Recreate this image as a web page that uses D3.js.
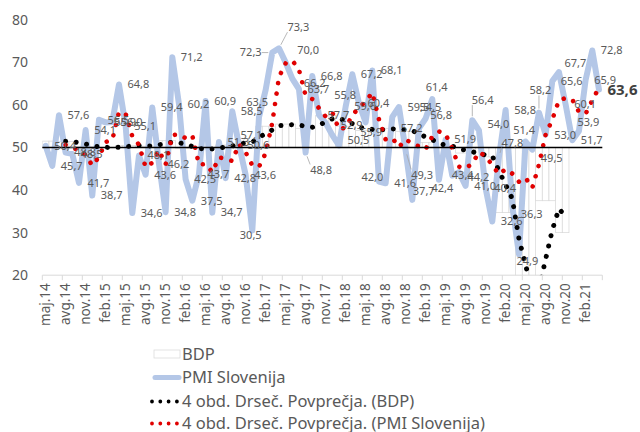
<!DOCTYPE html>
<html><head><meta charset="utf-8">
<script src="https://cdn.jsdelivr.net/npm/d3@7"></script>
<style>body{margin:0;background:#fff}svg{display:block}</style>
</head><body>
<svg id="c" width="640" height="432"></svg>
<script>
const monthNames = ["jan","feb","mar","apr","maj","jun","jul","avg","sep","okt","nov","dec"];
const startMonth = 4, startYear = 14, nMonths = 84;
const categories = d3.range(nMonths).map(i => monthNames[(startMonth + i) % 12] + "." + (startYear + Math.floor((startMonth + i) / 12)));

const pmi = [50.4,45.7,57.6,48.8,48.5,41.7,54.1,38.7,56.5,55.9,56.0,64.8,
             55.1,34.6,48.1,43.6,59.4,46.2,34.8,71.2,60.2,42.5,37.5,43.7,
             60.9,34.7,51.3,42.8,58.5,50.6,43.6,30.5,57.1,63.5,72.3,73.3,
             70.0,66.2,63.7,48.8,66.8,57.7,55.8,52.9,50.5,59.6,67.2,60.4,
             55.9,68.1,42.0,41.6,57.2,59.5,49.3,37.7,54.5,56.8,61.4,42.4,
             51.9,43.4,44.2,41.0,56.4,54.0,40.4,32.6,47.8,58.8,36.3,24.9,
             51.4,49.5,58.2,53.0,65.6,67.7,60.1,51.7,53.9,65.9,72.8,63.6];

const bdp = [51.5,51.5, 51.4,51.4,51.4, 50.2,50.2,50.2, 49.9,49.9,49.9,
             50.5,50.5,50.5, 50.3,50.3,50.3, 51.6,51.6,51.6, 49.8,49.8,49.8,
             49.6,49.6,49.6, 50.6,50.6,50.6, 51.5,51.5,51.5, 55.0,55.0,55.0,
             55.5,55.5,55.5, 54.5,54.5,54.5, 57.5,57.5,57.5, 55.0,55.0,55.0,
             54.0,54.0,54.0, 54.5,54.5,54.5, 53.8,53.8,53.8, 51.2,51.2,51.2,
             50.0,50.0,50.0, 48.7,48.7,48.7, 47.8,47.8,47.8, 34.7,34.7,34.7,
             10.0,10.0,10.0, 37.5,37.5,37.5, 30.0,30.0];

const yTicks = [20,30,40,50,60,70,80];
const axisCross = 50;
const maPeriod = 4;
const legendLabels = ["BDP","PMI Slovenija","4 obd. Drseč. Povprečja. (BDP)","4 obd. Drseč. Povprečja. (PMI Slovenija)"];

// manual data-label nudges (layout only): index -> [dx, dy, leaderLine]
const labelNudge = {
  31: [-21, 5, false], 32: [-27, 18, false], 33: [-28, 12, false],
  34: [-41, 0, true], 35: [0, -21, true], 36: [3, -12, false], 37: [3, 5, false],
  39: [-4, 18, true], 42: [0, -28, false], 43: [0, -10, false], 44: [0, -5, false],
  48: [-14, 10, false], 50: [-26, -4, false], 52: [0, 11, false], 54: [-3, 25, true],
  55: [-8, -9, false], 56: [-8, -21, false], 57: [-4, -3, false], 58: [-15, -12, false],
  59: [-16, 8, false], 61: [-9, 0, false], 62: [0, 5, false], 64: [-9, -20, true],
  65: [0, -6, false], 68: [-6, -14, true], 70: [0, 8, false], 71: [-11, 7, false],
  72: [-21, -11, false], 73: [0, 9, false], 74: [-18, -22, true], 77: [-3, -9, false],
  80: [-10, -9, true]
};

const fmt = v => d3.format(".1f")(v).replace(".", ",");
const movAvg = arr => arr.map((v, i) => i < maPeriod - 1 ? null : d3.mean(arr.slice(i - maPeriod + 1, i + 1)));
const FONT = "Noto Sans, sans-serif";

const svg = d3.select("#c");
const pL = 42.3, pR = 602.3, pT = 19.8, pB = 275.2;
const x = d3.scaleBand().domain(categories).range([pL, pR]).padding(0);
const y = d3.scaleLinear().domain([20, 80]).range([pB, pT]);
const cx = i => x(categories[i]) + x.bandwidth() / 2;

svg.append("defs").append("clipPath").attr("id", "plot")
  .append("rect").attr("x", pL).attr("y", pT - 5).attr("width", pR - pL).attr("height", pB - pT + 5);

const plot = svg.append("g").attr("clip-path", "url(#plot)");

// BDP bars from the axis crossing (white fill, faint border)
plot.append("g").selectAll("rect").data(bdp).join("rect")
  .attr("x", (d, i) => x(categories[i]))
  .attr("width", x.bandwidth())
  .attr("y", d => y(Math.max(d, axisCross)))
  .attr("height", d => Math.abs(y(d) - y(axisCross)))
  .attr("fill", "#fff").attr("stroke", "#d9d9d9").attr("stroke-width", 0.75);

// PMI line
const line = d3.line().x(d => cx(d[0])).y(d => y(d[1]));
plot.append("path").datum(pmi.map((v, i) => [i, v]))
  .attr("d", line).attr("fill", "none").attr("stroke", "#b4c7e7")
  .attr("stroke-width", 6).attr("stroke-linejoin", "round").attr("stroke-linecap", "round");

// horizontal axis line at 50
svg.append("line").attr("x1", pL).attr("x2", pR).attr("y1", y(axisCross)).attr("y2", y(axisCross))
  .attr("stroke", "#000").attr("stroke-width", 1.3);

// moving-average trendlines (round dots)
const bdpMA = movAvg(bdp), pmiMA = movAvg(pmi);
function dotted(data, color, w) {
  plot.append("path").datum(data.map((v, i) => [i, v]).filter(d => d[1] != null))
    .attr("d", line).attr("fill", "none").attr("stroke", color)
    .attr("stroke-width", w).attr("stroke-linecap", "round").attr("stroke-linejoin", "round")
    .attr("stroke-dasharray", "0.001 10.6");
}
dotted(bdpMA, "#000", 5);
dotted(pmiMA, "#e00000", 4.6);

// bottom category axis
const ax = svg.append("g");
ax.append("line").attr("x1", pL).attr("x2", pR).attr("y1", pB).attr("y2", pB)
  .attr("stroke", "#d9d9d9").attr("stroke-width", 1);
const tickIdx = d3.range(0, nMonths, 3);
ax.selectAll("line.t").data(tickIdx.concat([nMonths])).join("line").attr("class", "t")
  .attr("x1", i => i < nMonths ? x(categories[i]) : pR)
  .attr("x2", i => i < nMonths ? x(categories[i]) : pR)
  .attr("y1", pB).attr("y2", pB + 5).attr("stroke", "#d9d9d9");
ax.selectAll("text").data(tickIdx).join("text")
  .attr("transform", i => `translate(${cx(i)},${pB + 8}) rotate(-90)`)
  .attr("text-anchor", "end").attr("dy", "0.35em")
  .attr("font-family", FONT).attr("font-size", 13.5).attr("fill", "#595959")
  .text(i => categories[i]);

// value axis labels
const yAxis = d3.axisLeft(y).tickValues(yTicks).tickSize(0).tickPadding(0).tickFormat(d3.format("d"));
const yg = svg.append("g").attr("transform", "translate(28,0)").call(yAxis);
yg.select(".domain").remove();
yg.selectAll("text").attr("font-family", FONT).attr("font-size", 14).attr("fill", "#595959");

// data labels
const lblG = svg.append("g");
const leaderG = svg.append("g");
pmi.forEach((v, i) => {
  const n = labelNudge[i] || [0, 0, false];
  const last = i === nMonths - 1;
  const t = lblG.append("text")
    .attr("x", cx(i) + 8.5 + n[0]).attr("y", y(v) + n[1]).attr("dy", "0.35em")
    .attr("font-family", FONT).attr("font-size", last ? 15 : 11)
    .attr("font-weight", last ? "bold" : "normal")
    .attr("fill", last ? "#404040" : "#595959")
    .text(fmt(v));
  if (n[2]) {
    const b = t.node().getBBox();
    const px = cx(i), py = y(v);
    const qx = Math.max(b.x, Math.min(px, b.x + b.width));
    const qy = Math.max(b.y + 2, Math.min(py, b.y + b.height - 2));
    const dx = px - qx, dy = py - qy, len = Math.hypot(dx, dy);
    if (len > 6) {
      leaderG.append("line").attr("x1", qx).attr("y1", qy)
        .attr("x2", px - dx / len * 4).attr("y2", py - dy / len * 4)
        .attr("stroke", "#a6a6a6").attr("stroke-width", 0.8);
    }
  }
});

// legend
const lg = svg.append("g").attr("font-family", FONT).attr("font-size", 16.5).attr("fill", "#595959");
const lb = [359.5, 383, 406.5, 428.5];
lg.append("rect").attr("x", 154).attr("y", lb[0] - 9.5).attr("width", 26).attr("height", 8)
  .attr("fill", "#fff").attr("stroke", "#d9d9d9").attr("stroke-width", 0.75);
lg.append("line").attr("x1", 155).attr("x2", 179).attr("y1", lb[1] - 5.5).attr("y2", lb[1] - 5.5)
  .attr("stroke", "#b4c7e7").attr("stroke-width", 5).attr("stroke-linecap", "round");
[["#000", lb[2]], ["#e00000", lb[3]]].forEach(([c, yy]) => {
  lg.append("line").attr("x1", 152).attr("x2", 177).attr("y1", yy - 5).attr("y2", yy - 5)
    .attr("stroke", c).attr("stroke-width", 3.8).attr("stroke-linecap", "round").attr("stroke-dasharray", "0.001 8.3");
});
lg.selectAll("text").data(legendLabels).join("text")
  .attr("x", 182).attr("y", (d, i) => lb[i]).text(d => d);
</script>
</body></html>
